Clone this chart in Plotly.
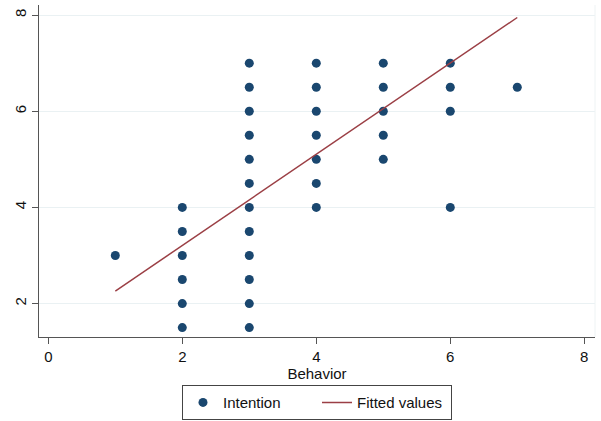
import plotly.graph_objects as go

# Scatter data: Behavior (x) vs Intention (y)
behavior = [1,
            2, 2, 2, 2, 2, 2,
            3, 3, 3, 3, 3, 3, 3, 3, 3, 3, 3, 3,
            4, 4, 4, 4, 4, 4, 4,
            5, 5, 5, 5, 5,
            6, 6, 6, 6,
            7]
intention = [3,
             1.5, 2, 2.5, 3, 3.5, 4,
             1.5, 2, 2.5, 3, 3.5, 4, 4.5, 5, 5.5, 6, 6.5, 7,
             4, 4.5, 5, 5.5, 6, 6.5, 7,
             5, 5.5, 6, 6.5, 7,
             4, 6, 6.5, 7,
             6.5]

# Fitted values
fit_x = [1, 7]
fit_y = [2.26, 7.95]

x_ticks = [0, 2, 4, 6, 8]
y_ticks = [2, 4, 6, 8]

fig = go.Figure()
fig.add_trace(go.Scatter(
    x=behavior, y=intention, mode="markers", name="Intention",
    marker=dict(color="#1a476f", size=9, line=dict(width=0)),
))
fig.add_trace(go.Scatter(
    x=fit_x, y=fit_y, mode="lines", name="Fitted values",
    line=dict(color="#9b3f45", width=1.5),
))

font_family = "Liberation Sans, Arial, sans-serif"

fig.update_layout(
    width=601, height=421,
    margin=dict(l=39, r=6, t=5, b=84, autoexpand=False),
    paper_bgcolor="white", plot_bgcolor="white",
    font=dict(family=font_family, size=15, color="#111111"),
    showlegend=True,
    legend=dict(
        orientation="h", x=0.5, xanchor="center", y=-0.145, yanchor="top",
        bordercolor="#444444", borderwidth=1, bgcolor="white",
        font=dict(size=15, family=font_family, color="#111111"),
        itemwidth=30, entrywidth=89,
    ),
    xaxis=dict(
        range=[-0.139, 8.16], tickvals=x_ticks, ticktext=[str(v) for v in x_ticks],
        showgrid=False, zeroline=False,
        showline=True, linecolor="#555555", linewidth=1.3,
        ticks="outside", ticklen=6, tickcolor="#555555", tickwidth=1.3,
        title=dict(text="Behavior", standoff=2, font=dict(size=15)),
    ),
    yaxis=dict(
        range=[1.305, 8.21], tickvals=y_ticks, ticktext=[str(v) for v in y_ticks],
        tickangle=-90,
        showgrid=True, gridcolor="#eaf1f3", gridwidth=1, zeroline=False,
        showline=True, linecolor="#555555", linewidth=1.3,
        ticks="outside", ticklen=6, tickcolor="#555555", tickwidth=1.3,
        ticklabelstandoff=0,
    ),
    shapes=[dict(type="line", xref="paper", yref="paper", x0=1, x1=1, y0=0, y1=1,
                 line=dict(color="#eef3f4", width=1))],
)

fig.write_html("out.html")
